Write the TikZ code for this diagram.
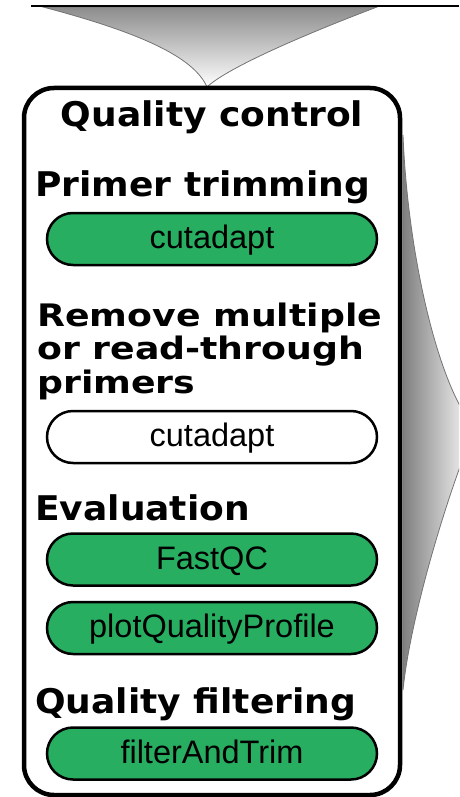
\documentclass[tikz,border=0pt]{standalone}
\usepackage{fontspec}
\usepackage{tikz}
\usetikzlibrary{backgrounds}
\newfontfamily\headfont[FakeStretch=1.06]{DejaVu Sans}
\newfontfamily\headwidefont[FakeStretch=1.17]{DejaVu Sans}
\newfontfamily\toolfont{Liberation Sans}
\definecolor{toolgreen}{RGB}{39,174,96}
\tikzset{
  heading/.style={font=\headfont\bfseries\fontsize{34}{38}\selectfont, inner sep=0pt, anchor=base west},
  tool/.style={draw=black, line width=2.5pt, fill=toolgreen, rounded corners=26pt,
    minimum width=330pt, minimum height=52pt, inner sep=0pt,
    text height=19pt, text depth=0pt, font=\toolfont\fontsize{32.5}{36}\selectfont},
  opttool/.style={tool, fill=white},
  funnel/.style={draw=black!55, line width=0.8pt}
}

\begin{document}
\begin{tikzpicture}[x=1pt,y=-1pt]
\clip (0,0) rectangle (459,797);
% incoming and outgoing funnels
\draw[funnel, top color=black!45, bottom color=white] (43,7) .. controls (150,35) and (195,60) .. (207,87)
  .. controls (225,70) and (290,40) .. (377,7) -- cycle;
\draw[funnel, left color=black!50, right color=white] (403,135) .. controls (408,260) and (440,390) .. (475,428)
  .. controls (445,500) and (410,620) .. (403,690) -- cycle;
\draw[line width=2pt] (31,6) -- (459,6);
% the step box
\draw[line width=4.5pt, fill=white, rounded corners=30pt] (24,88) rectangle (400,795);
\node[heading, anchor=base] (qc) at (212,127) {Quality control};

\node[heading] (primer) at (35,196) {Primer trimming};
\node[tool] (cut1) at (212,239) {cutadapt};

\node[heading, font=\headwidefont\bfseries\fontsize{31}{33.5}\selectfont, align=left] (multi) at (37,393)
  {Remove multiple\\or read-through\\primers};
\node[opttool] (cut2) at (212,437) {cutadapt};

\node[heading] (eval) at (35,520) {Evaluation};
\node[tool] (fastqc) at (212,559.5) {FastQC};
\node[tool] (profile) at (212,628) {plotQualityProfile};

\node[heading] (filter) at (35,713) {Quality filtering};
\node[tool] (trim) at (212,753.5) {filterAndTrim};
\end{tikzpicture}
\end{document}
